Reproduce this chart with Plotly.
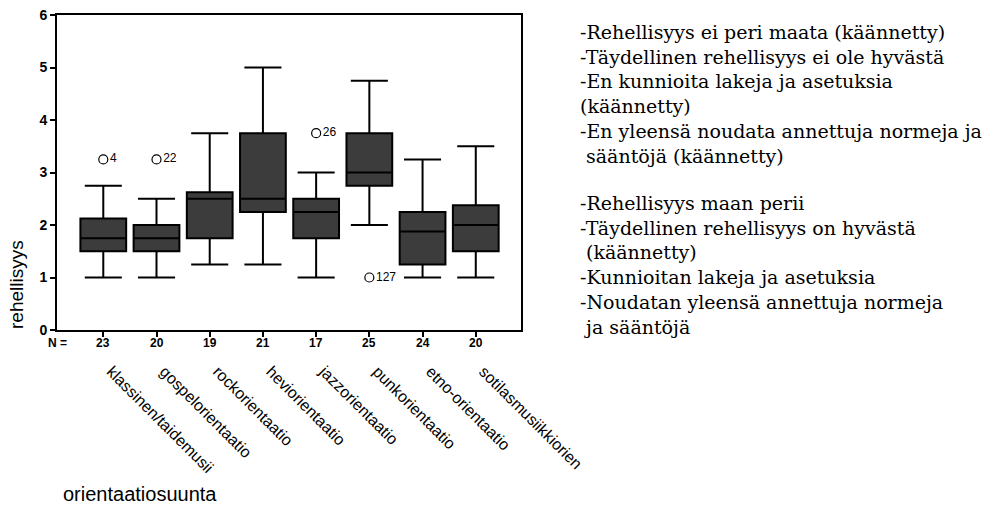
import plotly.graph_objects as go

categories = ["klassinen/taidemusii", "gospelorientaatio", "rockorientaatio",
              "heviorientaatio", "jazzorientaatio", "punkorientaatio",
              "etno-orientaatio", "sotilasmusiikkiorien"]
n_counts = [23, 20, 19, 21, 17, 25, 24, 20]
lower_whisker = [1.0, 1.0, 1.25, 1.25, 1.0, 2.0, 1.0, 1.0]
q1_values = [1.5, 1.5, 1.75, 2.25, 1.75, 2.75, 1.25, 1.5]
median_values = [1.75, 1.75, 2.5, 2.5, 2.25, 3.0, 1.875, 2.0]
q3_values = [2.125, 2.0, 2.625, 3.75, 2.5, 3.75, 2.25, 2.375]
upper_whisker = [2.75, 2.5, 3.75, 5.0, 3.0, 4.75, 3.25, 3.5]

outlier_cats = ["klassinen/taidemusii", "gospelorientaatio", "jazzorientaatio", "punkorientaatio"]
outlier_values = [3.25, 3.25, 3.75, 1.0]
outlier_ids = ["4", "22", "26", "127"]

y_ticks = [0, 1, 2, 3, 4, 5, 6]

text_group1 = ["-Rehellisyys ei peri maata (käännetty)",
               "-Täydellinen rehellisyys ei ole hyvästä",
               "-En kunnioita lakeja ja asetuksia",
               "(käännetty)",
               "-En yleensä noudata annettuja normeja ja",
               "\u00a0sääntöjä (käännetty)"]
text_group2 = ["-Rehellisyys maan perii",
               "-Täydellinen rehellisyys on hyvästä",
               "\u00a0(käännetty)",
               "-Kunnioitan lakeja ja asetuksia",
               "-Noudatan yleensä annettuja normeja",
               "\u00a0ja sääntöjä"]

sans = "'Liberation Sans', Arial, sans-serif"
serif = "'DejaVu Serif', 'Liberation Serif', serif"

plot_l, plot_r, plot_t, plot_b = 57, 521, 15, 330
def px_to_paper_x(px):
    return (px - plot_l) / (plot_r - plot_l)
def px_to_paper_y(py):
    return (plot_b - py) / (plot_b - plot_t)

fig = go.Figure()
fig.add_trace(go.Box(
    x=categories,
    q1=q1_values, median=median_values, q3=q3_values,
    lowerfence=lower_whisker, upperfence=upper_whisker,
    fillcolor="#3c3c3c",
    line=dict(color="black", width=2),
    width=0.86,
    whiskerwidth=0.81,
    boxpoints=False,
    showlegend=False,
    hoverinfo="skip",
))
fig.add_trace(go.Scatter(
    x=outlier_cats, y=outlier_values,
    mode="markers+text",
    marker=dict(symbol="circle-open", size=9, color="black", line=dict(width=1.2, color="black")),
    text=outlier_ids, textposition="middle right",
    textfont=dict(family=sans, size=12, color="black"),
    showlegend=False, hoverinfo="skip", cliponaxis=False,
))

annotations = []
for cat, n in zip(categories, n_counts):
    annotations.append(dict(x=cat, xref="x", y=0, yref="paper", yshift=-13,
                            text=f"<b>{n}</b>", showarrow=False, yanchor="middle",
                            font=dict(family=sans, size=12, color="black")))
annotations.append(dict(x=px_to_paper_x(69), xref="paper", y=0, yref="paper", yshift=-13,
                        text="<b>N =</b>", showarrow=False, xanchor="right", yanchor="middle",
                        font=dict(family=sans, size=12, color="black")))
annotations.append(dict(x=px_to_paper_x(61), xref="paper", y=px_to_paper_y(494), yref="paper",
                        text="orientaatiosuunta", showarrow=False, xanchor="left", yanchor="middle",
                        font=dict(family=sans, size=20, color="black")))
annotations.append(dict(x=px_to_paper_x(16), xref="paper", y=px_to_paper_y(285), yref="paper",
                        textangle=-90,
                        text="rehellisyys", showarrow=False, xanchor="center", yanchor="middle",
                        font=dict(family=sans, size=19, color="black")))
annotations.append(dict(x=px_to_paper_x(578), xref="paper", y=px_to_paper_y(19), yref="paper",
                        text="<br>".join(text_group1), showarrow=False, align="left",
                        xanchor="left", yanchor="top",
                        font=dict(family=serif, size=19, color="black")))
annotations.append(dict(x=px_to_paper_x(578), xref="paper", y=px_to_paper_y(190), yref="paper",
                        text="<br>".join(text_group2), showarrow=False, align="left",
                        xanchor="left", yanchor="top",
                        font=dict(family=serif, size=19, color="black")))

fig.update_layout(
    template="none",
    width=1002, height=524,
    margin=dict(l=plot_l, r=1002 - plot_r, t=plot_t, b=524 - plot_b, autoexpand=False),
    paper_bgcolor="white", plot_bgcolor="white",
    annotations=annotations,
    xaxis=dict(
        type="category", range=[-0.87, 7.85], automargin=False,
        showline=True, linecolor="black", linewidth=2, mirror=True,
        ticks="outside", ticklen=5, tickwidth=1.5, tickcolor="black",
        tickangle=45, ticklabelstandoff=19, ticklabelshift=8,
        tickfont=dict(family=sans, size=16, color="black"),
        showgrid=False, zeroline=False,
    ),
    yaxis=dict(
        range=[0, 6], tickvals=y_ticks, automargin=False,
        showline=True, linecolor="black", linewidth=2, mirror=True,
        ticks="outside", ticklen=5, tickwidth=1.5, tickcolor="black",
        tickfont=dict(family=sans, size=14, color="black", weight="bold"),
        showgrid=False, zeroline=False,
    ),
)

fig.write_html("out.html",
               config={"displayModeBar": False},
               post_script="document.body.style.margin='0';document.body.style.overflow='hidden';")
